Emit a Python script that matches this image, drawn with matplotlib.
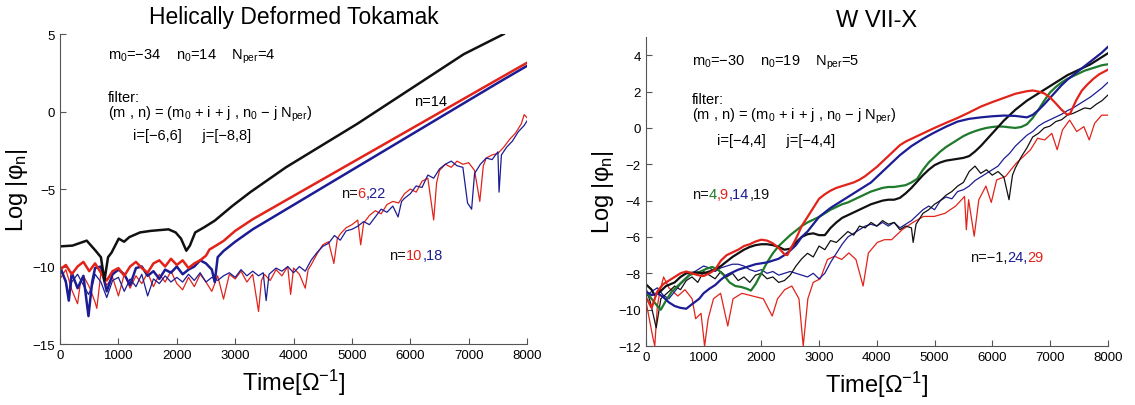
import matplotlib
matplotlib.use('Agg')
import matplotlib.pyplot as plt

plt.rcParams['font.family'] = ['Liberation Sans', 'DejaVu Sans']
plt.rcParams['mathtext.default'] = 'regular'

# ---------------- Helically Deformed Tokamak ----------------
# n=14 (black)
tok_t14 = [0, 213, 457, 609, 700, 761, 822, 883, 1005, 1097, 1188, 1371, 1553, 1858, 1980, 2072,
           2163, 2224, 2315, 2468, 2650, 2955, 3260, 3869, 4478, 5088, 5697, 6306, 6915, 7600]
tok_v14 = [-8.7, -8.65, -8.33, -8.98, -9.4, -10.9, -9.4, -9.1, -8.2, -8.4, -8.1, -7.8, -7.7, -7.6, -7.8, -8.2,
           -8.98, -8.65, -7.8, -7.47, -7.04, -6.08, -5.2, -3.6, -2.2, -0.8, 0.7, 2.2, 3.7, 5.0]

# n=6 (red, thick)
tok_t6 = [0, 100, 200, 300, 400, 500, 600, 700, 800, 900, 1000, 1100, 1200, 1300, 1400, 1500, 1600,
          1700, 1800, 1900, 2000, 2100, 2200, 2300, 2400, 2500, 2560, 2650, 2800, 3000, 3300, 3900,
          4500, 5100, 5700, 6300, 6900, 7500, 8000]
tok_v6 = [-10.2, -9.9, -10.5, -10.0, -9.7, -10.3, -9.8, -10.4, -10.9, -10.3, -10.1, -10.6, -10.0, -9.7,
          -10.1, -10.4, -9.8, -9.6, -10.0, -9.5, -9.9, -9.6, -10.1, -9.8, -9.6, -9.3, -8.9, -8.7, -8.35,
          -7.7, -6.95, -5.66, -4.37, -3.08, -1.79, -0.5, 0.79, 2.08, 3.15]

# n=22 (blue, thick)
tok_t22 = [0, 100, 150, 200, 300, 400, 487, 550, 600, 700, 800, 900, 1000, 1100, 1200, 1300, 1400,
           1500, 1600, 1700, 1800, 1900, 2000, 2100, 2200, 2300, 2400, 2500, 2600, 2650, 2700, 2800,
           3000, 3300, 3900, 4500, 5100, 5700, 6300, 6900, 7500, 8000]
tok_v22 = [-10.0, -11.0, -12.2, -10.4, -11.4, -10.6, -13.2, -11.0, -10.1, -10.0, -11.6, -10.5, -10.2,
           -10.5, -11.2, -10.1, -10.0, -10.6, -10.3, -10.8, -10.2, -10.4, -10.0, -10.5, -10.2, -10.0,
           -9.6, -9.8, -10.2, -11.0, -9.4, -9.0, -8.4, -7.6, -6.25, -4.9, -3.55, -2.2, -0.85, 0.5, 1.85, 2.95]

# n=10 (red, thin)
tok_t10 = [0, 100, 200, 300, 350, 400, 500, 600, 630, 700, 800, 900, 1000, 1100, 1200, 1300, 1400,
           1500, 1600, 1700, 1800, 1900, 2000, 2100, 2200, 2300, 2400, 2500, 2600, 2700, 2800, 2900,
           3000, 3100, 3200, 3300, 3400, 3450, 3500, 3600, 3700, 3800, 3900, 3950, 4000, 4100, 4200,
           4250, 4300, 4400, 4500, 4600, 4690, 4750, 4800, 4900, 5000, 5100, 5150, 5200, 5300, 5400,
           5500, 5600, 5700, 5800, 5900, 6000, 6100, 6200, 6300, 6400, 6450, 6500, 6600, 6700, 6800,
           6900, 7000, 7100, 7190, 7250, 7300, 7400, 7500, 7600, 7700, 7800, 7900, 7950, 8000]
tok_v10 = [-10.8, -10.2, -11.5, -12.4, -11.0, -10.6, -11.3, -12.3, -12.7, -10.4, -11.2, -10.7, -11.9,
           -10.5, -11.4, -10.6, -11.1, -10.4, -11.3, -10.5, -11.0, -10.3, -11.1, -11.5, -10.7, -11.3,
           -10.5, -11.0, -11.6, -10.6, -12.1, -10.5, -10.8, -10.3, -11.0, -10.5, -12.9, -10.9, -10.5,
           -10.9, -10.2, -10.6, -10.0, -11.8, -10.1, -10.5, -11.4, -10.2, -9.9, -9.2, -8.6, -8.4, -9.8,
           -8.2, -7.9, -7.5, -7.3, -7.0, -8.6, -7.2, -6.7, -6.4, -6.6, -6.0, -5.8, -5.9, -5.3, -5.0,
           -5.2, -4.5, -4.3, -7.0, -4.6, -3.8, -3.4, -3.6, -3.2, -3.4, -3.3, -3.8, -5.8, -3.5, -3.0,
           -2.8, -2.7, -2.3, -1.8, -1.4, -0.8, -0.2, -0.4]

# n=18 (blue, thin)
tok_t18 = [0, 100, 150, 200, 300, 400, 487, 550, 600, 700, 800, 900, 1000, 1100, 1200, 1300, 1400,
           1500, 1600, 1700, 1800, 1900, 2000, 2100, 2200, 2300, 2400, 2500, 2600, 2700, 2800, 2900,
           3000, 3100, 3200, 3300, 3400, 3480, 3530, 3580, 3700, 3800, 3900, 4000, 4100, 4200, 4300,
           4400, 4500, 4600, 4700, 4800, 4900, 5000, 5100, 5200, 5300, 5400, 5500, 5600, 5700, 5790,
           5850, 5900, 6000, 6100, 6200, 6300, 6400, 6500, 6600, 6700, 6800, 6900, 6980, 7050, 7100,
           7200, 7300, 7400, 7500, 7520, 7560, 7650, 7750, 7850, 7950, 8000]
tok_v18 = [-10.2, -10.9, -12.1, -11.0, -10.5, -11.2, -11.8, -11.3, -10.5, -11.0, -12.0, -10.9, -10.7,
           -11.6, -10.8, -11.3, -10.5, -11.9, -10.8, -11.1, -10.6, -11.0, -10.7, -11.0, -10.5, -10.9,
           -10.4, -11.0, -10.7, -10.9, -10.6, -10.4, -10.7, -10.2, -10.6, -10.3, -10.6, -10.4, -12.2,
           -10.5, -10.1, -10.3, -10.0, -10.4, -10.0, -10.3, -9.6, -9.1, -8.7, -8.5, -8.0, -8.3, -7.7,
           -7.6, -7.4, -7.1, -7.3, -6.8, -6.3, -6.5, -6.1, -6.8, -5.8, -5.6, -5.3, -4.8, -4.9, -4.1,
           -4.3, -3.7, -3.4, -3.2, -3.5, -3.6, -5.9, -6.3, -4.0, -3.4, -3.0, -3.1, -2.6, -5.2, -2.8,
           -2.3, -1.9, -1.3, -0.9, -0.6]

# ---------------- W VII-X ----------------
w_t9 = [0, 100, 200, 300, 400, 500, 600, 700, 800, 900, 1000, 1100, 1200, 1300, 1400, 1500, 1600,
        1700, 1800, 1900, 2000, 2100, 2200, 2300, 2400, 2450, 2500, 2600, 2700, 2800, 2900, 3000,
        3100, 3200, 3300, 3400, 3500, 3600, 3700, 3800, 3900, 4000, 4100, 4200, 4300, 4400, 4500,
        4600, 4700, 4800, 4900, 5000, 5200, 5400, 5600, 5800, 6000, 6200, 6400, 6600, 6700, 6800,
        6900, 7000, 7100, 7200, 7300, 7350, 7450, 7550, 7650, 7750, 7850, 8000]
w_v9 = [-9.3, -9.9, -9.0, -8.6, -8.4, -8.2, -8.0, -7.9, -8.0, -8.1, -8.15, -8.0, -7.8, -7.3, -7.0,
        -6.85, -6.7, -6.5, -6.4, -6.25, -6.15, -6.2, -6.35, -6.6, -6.95, -7.0, -6.7, -6.1, -5.4, -4.9,
        -4.4, -3.9, -3.65, -3.45, -3.3, -3.2, -3.1, -3.0, -2.85, -2.65, -2.4, -2.15, -1.85, -1.55,
        -1.25, -0.95, -0.75, -0.6, -0.45, -0.3, -0.15, 0.0, 0.28, 0.55, 0.85, 1.17, 1.42, 1.65, 1.88,
        2.02, 2.06, 2.0, 1.9, 1.68, 1.35, 1.0, 0.72, 0.8, 1.5, 2.05, 2.4, 2.7, 2.95, 3.2]

w_t14 = [0, 100, 200, 300, 400, 500, 600, 700, 800, 925, 1000, 1100, 1200, 1300, 1400, 1500, 1600,
         1700, 1800, 1900, 2000, 2100, 2200, 2300, 2400, 2500, 2600, 2700, 2800, 2900, 3000, 3100,
         3200, 3300, 3400, 3500, 3600, 3700, 3800, 3900, 4000, 4100, 4200, 4300, 4400, 4500, 4600,
         4700, 4800, 4900, 5000, 5200, 5400, 5600, 5800, 6000, 6200, 6400, 6600, 6700, 6800, 6900,
         7000, 7100, 7200, 7300, 7400, 7500, 7600, 7700, 7800, 7900, 8000]
w_v14 = [-9.0, -9.2, -9.1, -9.3, -9.6, -9.8, -9.9, -9.95, -9.7, -9.4, -9.1, -8.85, -8.65, -8.35, -8.1,
         -7.95, -7.8, -7.7, -7.6, -7.5, -7.45, -7.4, -7.3, -7.2, -7.0, -6.75, -6.45, -6.0, -5.7, -5.3,
         -4.9, -4.65, -4.4, -4.2, -4.0, -3.8, -3.6, -3.4, -3.2, -3.0, -2.7, -2.4, -2.1, -1.8, -1.5,
         -1.25, -1.0, -0.8, -0.6, -0.42, -0.25, 0.07, 0.35, 0.5, 0.58, 0.64, 0.68, 0.66, 0.58, 0.72,
         0.98, 1.3, 1.65, 2.0, 2.35, 2.65, 2.9, 3.15, 3.4, 3.65, 3.9, 4.15, 4.45]

w_t4 = [0, 100, 200, 260, 350, 450, 550, 650, 750, 850, 950, 1050, 1150, 1250, 1350, 1450, 1550,
        1650, 1750, 1820, 1900, 2000, 2100, 2200, 2300, 2400, 2500, 2600, 2700, 2800, 2900, 3000,
        3100, 3200, 3300, 3400, 3500, 3600, 3700, 3800, 3900, 4000, 4100, 4200, 4300, 4400, 4500,
        4600, 4700, 4800, 4900, 5000, 5100, 5200, 5300, 5400, 5500, 5600, 5700, 5800, 5900, 6000,
        6100, 6200, 6300, 6400, 6500, 6600, 6700, 6800, 6900, 7000, 7100, 7200, 7300, 7400, 7500,
        7600, 7700, 7800, 7900, 8000]
w_v4 = [-9.0, -9.4, -9.8, -10.0, -9.5, -9.0, -8.7, -8.4, -8.1, -8.0, -7.9, -7.75, -7.65, -7.8, -8.1,
        -8.5, -8.7, -8.75, -8.85, -8.95, -8.6, -8.0, -7.4, -6.9, -6.5, -6.2, -5.9, -5.65, -5.4, -5.2,
        -5.05, -4.9, -4.7, -4.5, -4.35, -4.2, -4.1, -3.95, -3.8, -3.65, -3.5, -3.4, -3.3, -3.25, -3.25,
        -3.2, -3.15, -3.0, -2.8, -2.3, -1.9, -1.6, -1.3, -1.05, -0.85, -0.65, -0.45, -0.3, -0.18, -0.08,
        0.0, 0.05, 0.08, 0.07, 0.03, 0.0, 0.05, 0.2, 0.55, 1.0, 1.5, 1.95, 2.25, 2.5, 2.7, 2.85, 3.0,
        3.15, 3.25, 3.35, 3.45, 3.5]

w_t19 = [0, 100, 150, 250, 350, 500, 600, 700, 850, 1000, 1100, 1200, 1300, 1400, 1500, 1600, 1700,
         1800, 1900, 2000, 2100, 2200, 2300, 2400, 2500, 2600, 2700, 2800, 2900, 3000, 3100, 3200,
         3300, 3400, 3500, 3600, 3700, 3800, 3900, 4000, 4100, 4200, 4300, 4400, 4500, 4600, 4700,
         4800, 4900, 5000, 5100, 5200, 5300, 5400, 5500, 5600, 5700, 5800, 5900, 6000, 6100, 6200,
         6300, 6400, 6500, 6600, 6700, 6800, 6900, 7000, 7100, 7200, 7300, 7400, 7500, 7600, 7700,
         7800, 7900, 8000]
w_v19 = [-8.6, -8.9, -9.2, -9.0, -8.7, -8.5, -8.2, -8.0, -7.95, -8.0, -7.9, -7.8, -7.6, -7.35, -7.1,
         -6.9, -6.7, -6.55, -6.45, -6.4, -6.4, -6.45, -6.55, -6.7, -6.65, -6.3, -6.0, -5.85, -5.8, -5.9,
         -5.9, -5.5, -5.2, -4.95, -4.8, -4.65, -4.5, -4.35, -4.2, -4.1, -4.0, -3.95, -3.95, -3.85, -3.6,
         -3.3, -2.95, -2.6, -2.3, -2.05, -1.9, -1.8, -1.75, -1.7, -1.65, -1.55, -1.3, -1.0, -0.65, -0.3,
         0.05, 0.4, 0.7, 1.0, 1.25, 1.5, 1.7, 1.9, 2.1, 2.3, 2.5, 2.7, 2.9, 3.05, 3.2, 3.35, 3.5, 3.7,
         3.9, 4.1]

w_tm1 = [0, 80, 180, 260, 400, 500, 600, 700, 800, 900, 1000, 1100, 1200, 1300, 1400, 1500, 1600,
         1700, 1800, 1900, 2000, 2100, 2200, 2300, 2400, 2500, 2600, 2700, 2800, 2900, 3000, 3100,
         3200, 3300, 3400, 3500, 3600, 3700, 3800, 3900, 4000, 4100, 4200, 4300, 4400, 4500, 4600,
         4630, 4680, 4800, 4900, 5000, 5100, 5200, 5300, 5400, 5500, 5600, 5700, 5800, 5900, 6000,
         6100, 6200, 6290, 6350, 6400, 6500, 6600, 6700, 6800, 6900, 7000, 7100, 7200, 7300, 7400,
         7500, 7600, 7700, 7800, 7900, 8000]
w_vm1 = [-8.8, -9.6, -11.0, -9.4, -9.0, -8.7, -8.9, -8.4, -8.2, -8.5, -7.9, -8.1, -8.3, -7.9, -8.2,
         -8.0, -8.4, -8.2, -8.5, -8.1, -8.0, -8.3, -8.2, -8.5, -8.4, -8.1, -7.6, -7.2, -6.9, -7.1, -6.5,
         -6.7, -6.2, -6.3, -6.0, -5.7, -5.9, -5.4, -5.5, -5.2, -5.4, -5.1, -5.3, -5.2, -5.6, -5.4, -5.5,
         -6.3, -5.3, -4.7, -4.5, -4.2, -4.0, -3.7, -3.5, -3.2, -3.0, -2.4, -2.1, -2.5, -2.3, -2.6, -2.4,
         -2.7, -3.95, -2.6, -2.2, -1.6, -1.1, -0.5, -0.3, 0.0, 0.1, 0.35, 0.45, 0.7, 0.8, 0.95, 1.1,
         1.05, 1.3, 1.5, 1.8]

w_t24 = [0, 100, 200, 300, 400, 500, 600, 700, 800, 900, 1000, 1100, 1200, 1300, 1400, 1500, 1600,
         1700, 1800, 1900, 2000, 2100, 2200, 2300, 2400, 2500, 2600, 2700, 2800, 2900, 3000, 3100,
         3200, 3300, 3400, 3500, 3600, 3700, 3800, 3900, 4000, 4100, 4200, 4300, 4400, 4500, 4600,
         4700, 4800, 4900, 5000, 5100, 5200, 5300, 5400, 5500, 5600, 5700, 5800, 5900, 6000, 6100,
         6200, 6300, 6400, 6500, 6600, 6700, 6800, 6900, 7000, 7100, 7200, 7300, 7400, 7500, 7600,
         7700, 7800, 7900, 8000]
w_v24 = [-9.3, -9.0, -8.8, -9.2, -9.4, -9.0, -8.6, -8.3, -8.0, -7.8, -7.6, -7.7, -7.9, -7.7, -7.6,
         -7.5, -7.5, -7.6, -7.8, -7.9, -7.8, -8.0, -7.9, -8.1, -8.0, -7.9, -8.0, -8.1, -8.2, -8.0, -8.3,
         -8.0, -7.4, -6.9, -6.4, -6.0, -5.8, -5.6, -5.4, -5.3, -5.4, -5.2, -5.4, -5.2, -5.5, -5.3, -5.1,
         -4.8, -4.5, -4.3, -4.5, -4.0, -3.8, -3.9, -3.5, -3.4, -3.2, -2.9, -2.7, -2.5, -2.3, -2.1, -1.7,
         -1.4, -1.0, -0.7, -0.4, -0.2, 0.1, 0.3, 0.45, 0.6, 0.75, 0.95, 1.1, 1.3, 1.5, 1.7, 1.95, 2.2, 2.5]

w_t29 = [0, 60, 120, 155, 200, 250, 308, 400, 555, 678, 802, 863, 956, 1018, 1080, 1172, 1295, 1419,
         1511, 1665, 1850, 2035, 2189, 2282, 2405, 2529, 2652, 2726, 2806, 2899, 3022, 3146, 3269,
         3392, 3516, 3639, 3763, 3855, 4009, 4133, 4256, 4441, 4626, 4811, 4996, 5181, 5366, 5520,
         5551, 5590, 5687, 5767, 5890, 5983, 6076, 6230, 6415, 6538, 6662, 6785, 6908, 7031, 7124,
         7216, 7340, 7463, 7586, 7679, 7772, 7895, 8000]
w_v29 = [-9.5, -10.5, -11.5, -12.0, -9.8, -8.9, -8.2, -8.8, -9.25, -8.9, -9.4, -10.5, -10.2, -12.0,
         -10.5, -9.4, -9.1, -10.9, -9.4, -9.1, -9.25, -9.4, -10.35, -9.4, -8.9, -8.7, -9.4, -12.0, -9.4,
         -8.5, -8.3, -7.24, -7.06, -7.24, -6.88, -7.24, -8.7, -6.88, -6.3, -6.15, -6.15, -5.6, -5.2,
         -4.87, -4.87, -4.7, -4.3, -3.77, -5.6, -3.95, -5.96, -3.95, -3.2, -4.1, -2.86, -2.67, -1.94,
         -1.58, -1.2, -0.57, -0.66, -0.3, -1.2, -0.11, 0.43, -0.2, 0.07, -0.66, 0.25, 0.7, 0.7]

RED = '#e2231a'
BLUE = '#1c1c94'
GREEN = '#1f7a2c'
BLACK = '#111111'

fig = plt.figure(figsize=(11.35, 4.06), dpi=100)
ax1 = fig.add_axes([0.0529, 0.1502, 0.4115, 0.7635])
ax2 = fig.add_axes([0.569, 0.1453, 0.407, 0.761])

ax1.plot(tok_t10, tok_v10, color=RED, lw=0.9)
ax1.plot(tok_t18, tok_v18, color=BLUE, lw=0.9)
ax1.plot(tok_t22, tok_v22, color=BLUE, lw=1.8)
ax1.plot(tok_t6, tok_v6, color=RED, lw=1.8)
ax1.plot(tok_t14, tok_v14, color=BLACK, lw=1.8)

ax2.plot(w_t29, w_v29, color=RED, lw=0.9)
ax2.plot(w_t24, w_v24, color=BLUE, lw=0.9)
ax2.plot(w_tm1, w_vm1, color=BLACK, lw=0.9)
ax2.plot(w_t4, w_v4, color=GREEN, lw=1.6)
ax2.plot(w_t19, w_v19, color=BLACK, lw=1.6)
ax2.plot(w_t14, w_v14, color=BLUE, lw=1.6)
ax2.plot(w_t9, w_v9, color=RED, lw=1.6)

ax1.set_xlim(0, 8000)
ax1.set_ylim(-15, 5)
ax1.set_yticks([-15, -10, -5, 0, 5])
ax2.set_xlim(0, 8000)
ax2.set_ylim(-12, 5)
ax2.set_yticks([-12, -10, -8, -6, -4, -2, 0, 2, 4])

for ax in (ax1, ax2):
    ax.set_xticks(range(0, 8001, 1000))
    ax.spines['top'].set_visible(False)
    ax.spines['right'].set_visible(False)
    ax.spines['left'].set_color('#555555')
    ax.spines['bottom'].set_color('#555555')
    ax.tick_params(direction='in', length=4, labelsize=9.5, color='#555555')
    ax.set_xlabel('Time[Ω$^{-1}$]', fontsize=17, labelpad=4)
    ax.set_ylabel('Log |φ$_n$|', fontsize=17, labelpad=2)

ax1.set_title('Helically Deformed Tokamak', fontsize=16.5, pad=8)
ax2.set_title('W VII-X', fontsize=17, pad=8)

fs = 10.5


def multicolor(ax, x, y, parts):
    t = ax.text(x, y, parts[0][0], color=parts[0][1], fontsize=fs, va='bottom')
    for s, c in parts[1:]:
        t = ax.annotate(s, xycoords=t, xy=(1, 0), va='bottom', color=c, fontsize=fs)


ax1.text(820, 3.4, 'm$_0$=−34    n$_0$=14    N$_{per}$=4', fontsize=fs)
ax1.text(820, 0.7, 'filter:', fontsize=fs)
ax1.text(820, -0.3, '(m , n) = (m$_0$ + i + j , n$_0$ − j N$_{per}$)', fontsize=fs)
ax1.text(1250, -1.8, 'i=[−6,6]     j=[−8,8]', fontsize=fs)
ax1.text(6060, 0.4, 'n=14', fontsize=fs)
multicolor(ax1, 4810, -5.7, [('n=', BLACK), ('6', RED), (',22', BLUE)])
multicolor(ax1, 5640, -9.7, [('n=', BLACK), ('10', RED), (',18', BLUE)])

ax2.text(800, 3.5, 'm$_0$=−30    n$_0$=19    N$_{per}$=5', fontsize=fs)
ax2.text(800, 1.35, 'filter:', fontsize=fs)
ax2.text(800, 0.5, '(m , n) = (m$_0$ + i + j , n$_0$ − j N$_{per}$)', fontsize=fs)
ax2.text(1230, -0.9, 'i=[−4,4]     j=[−4,4]', fontsize=fs)
multicolor(ax2, 800, -4.0, [('n=', BLACK), ('4', GREEN), (',9', RED), (',14', BLUE), (',19', BLACK)])
multicolor(ax2, 5610, -7.5, [('n=−1,', BLACK), ('24,', BLUE), ('29', RED)])

fig.savefig('out.png', dpi=100)
